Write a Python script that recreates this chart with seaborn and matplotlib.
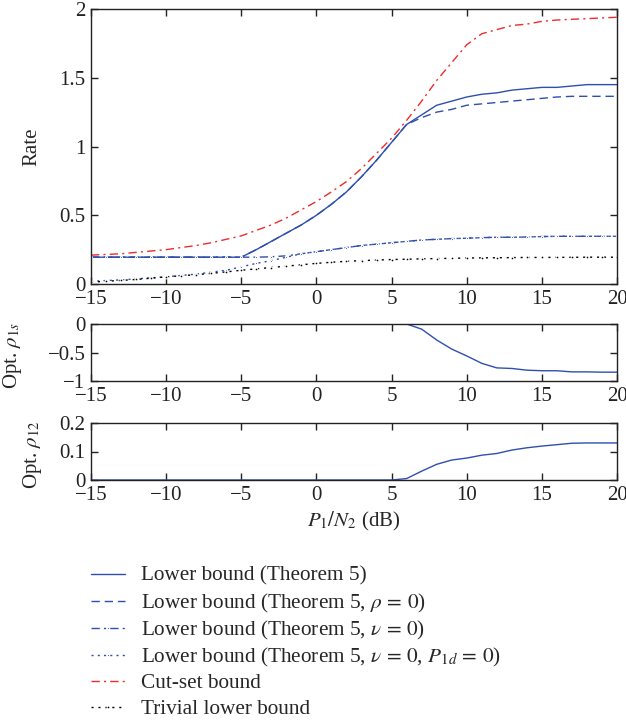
import numpy as np
import matplotlib
matplotlib.use("Agg")
import matplotlib.pyplot as plt
import seaborn as sns

# ── Data ──────────────────────────────────────────────────────────────────────
snr_db = list(range(-15, 21))

lb_thm5 = [0.195] * 11 + [0.25, 0.31, 0.37, 0.43, 0.50, 0.58, 0.67, 0.78, 0.90, 1.03,
                          1.16, 1.23, 1.30, 1.33, 1.36, 1.38, 1.39, 1.41, 1.42, 1.43,
                          1.43, 1.44, 1.45, 1.45, 1.45]
lb_rho0 = [0.195] * 11 + [0.25, 0.31, 0.37, 0.43, 0.50, 0.58, 0.67, 0.78, 0.90, 1.03,
                          1.16, 1.21, 1.25, 1.27, 1.30, 1.31, 1.32, 1.33, 1.34, 1.35,
                          1.36, 1.365, 1.365, 1.365, 1.365]
lb_nu0 = [0.195] * 11 + [0.195, 0.198, 0.205, 0.22, 0.235, 0.25, 0.265, 0.28, 0.29, 0.30,
                         0.31, 0.32, 0.325, 0.33, 0.333, 0.337, 0.34, 0.34, 0.342, 0.345,
                         0.347, 0.347, 0.347, 0.347, 0.347]
lb_nu0_p1d0 = [0.02, 0.025, 0.03, 0.037, 0.045, 0.052, 0.062, 0.072, 0.086, 0.10,
               0.125, 0.15, 0.17, 0.195, 0.22, 0.235, 0.25, 0.265, 0.28, 0.29, 0.30,
               0.31, 0.32, 0.325, 0.33, 0.333, 0.337, 0.34, 0.34, 0.342, 0.345,
               0.347, 0.347, 0.347, 0.347, 0.347]
cutset = [0.21, 0.215, 0.22, 0.23, 0.24, 0.25, 0.265, 0.28, 0.30, 0.325, 0.35,
          0.39, 0.43, 0.48, 0.54, 0.60, 0.67, 0.745, 0.84, 0.95, 1.06, 1.19,
          1.33, 1.48, 1.61, 1.74, 1.82, 1.85, 1.88, 1.89, 1.91, 1.92, 1.925,
          1.93, 1.935, 1.94]
trivial = [0.013, 0.02, 0.026, 0.033, 0.042, 0.052, 0.06, 0.068, 0.077, 0.088,
           0.10, 0.11, 0.12, 0.13, 0.14, 0.15, 0.158, 0.165, 0.17, 0.174, 0.178,
           0.18, 0.183, 0.185, 0.187, 0.189, 0.19, 0.191, 0.192, 0.193, 0.193,
           0.194, 0.194, 0.195, 0.195, 0.195]

opt_rho1s = [0.0] * 22 + [-0.09, -0.28, -0.44, -0.56, -0.69, -0.77, -0.78, -0.81,
                          -0.82, -0.82, -0.84, -0.84, -0.845, -0.845]
opt_rho12 = [0.0] * 21 + [0.005, 0.031, 0.055, 0.07, 0.077, 0.087, 0.093, 0.105,
                          0.113, 0.119, 0.124, 0.129, 0.13, 0.13, 0.13]

labels = [
    "Lower bound (Theorem 5)",
    r"Lower bound (Theorem 5, $\rho\, =\, 0$)",
    r"Lower bound (Theorem 5, $\nu\, =\, 0$)",
    r"Lower bound (Theorem 5, $\nu\, =\, 0$, $P_{1d}\, =\, 0$)",
    "Cut-set bound",
    "Trivial lower bound",
]

# ── Style ─────────────────────────────────────────────────────────────────────
sns.set_theme(style="ticks")
plt.rcParams["font.family"] = ["Liberation Serif", "DejaVu Serif"]
plt.rcParams["mathtext.fontset"] = "stix"
plt.rcParams["font.size"] = 15
plt.rcParams["axes.linewidth"] = 1.0
plt.rcParams["xtick.direction"] = "in"
plt.rcParams["ytick.direction"] = "in"
plt.rcParams["xtick.major.size"] = 5
plt.rcParams["ytick.major.size"] = 5
plt.rcParams["xtick.labelsize"] = 15
plt.rcParams["ytick.labelsize"] = 15
plt.rcParams["axes.labelsize"] = 15

BLUE = "#2f4fae"
RED = "#f02a2a"

fig = plt.figure(figsize=(6.26, 7.21), dpi=100)
L, W = 91 / 626, 526 / 626
ax1 = fig.add_axes([L, 1 - 284 / 721, W, 275 / 721])
ax2 = fig.add_axes([L, 1 - 381 / 721, W, 57 / 721])
ax3 = fig.add_axes([L, 1 - 480 / 721, W, 57 / 721])

x = np.array(snr_db)
lw = 1.0
sns.lineplot(x=x, y=lb_thm5, ax=ax1, color=BLUE, lw=lw, linestyle="-", label=labels[0])
sns.lineplot(x=x, y=lb_rho0, ax=ax1, color=BLUE, lw=lw, linestyle=(0, (6, 3.5)), label=labels[1])
sns.lineplot(x=x, y=lb_nu0, ax=ax1, color=BLUE, lw=lw, linestyle=(0, (6, 3, 1.5, 3)),
             marker=".", markersize=3, label=labels[2])
sns.lineplot(x=x, y=lb_nu0_p1d0, ax=ax1, color=BLUE, lw=lw, linestyle=(0, (1.5, 3)),
             marker=".", markersize=3, label=labels[3])
sns.lineplot(x=x, y=cutset, ax=ax1, color=RED, lw=lw, linestyle=(0, (6, 3, 1.5, 3)), label=labels[4])
sns.lineplot(x=x, y=trivial, ax=ax1, color="black", lw=lw, linestyle=(0, (1.5, 3.5)),
             marker=".", markersize=4, label=labels[5])

sns.lineplot(x=x, y=opt_rho1s, ax=ax2, color=BLUE, lw=lw, legend=False)
sns.lineplot(x=x, y=opt_rho12, ax=ax3, color=BLUE, lw=lw, legend=False)

fmt = matplotlib.ticker.FuncFormatter(lambda v, p: ("%g" % v).replace("-", "\u2212"))
for ax in (ax1, ax2, ax3):
    ax.set_xlim(-15, 20)
    ax.set_xticks([-15, -10, -5, 0, 5, 10, 15, 20])
    ax.tick_params(top=True, right=True, which="major", width=1.0, pad=4, colors="#222222")
    ax.xaxis.set_major_formatter(fmt)
    ax.yaxis.set_major_formatter(fmt)
    for s in ax.spines.values():
        s.set_color("#222222")
        s.set_visible(True)

ax1.set_ylim(0, 2)
ax1.set_yticks([0, 0.5, 1, 1.5, 2])
ax1.set_ylabel("Rate")
ax1.yaxis.set_label_coords(-0.095, 0.5)

ax2.set_ylim(-1, 0)
ax2.set_yticks([-1, -0.5, 0])
ax2.set_ylabel(r"Opt. $\rho_{1s}$")
ax2.yaxis.set_label_coords(-0.127, 0.45)

ax3.set_ylim(0, 0.2)
ax3.set_yticks([0, 0.1, 0.2])
ax3.set_ylabel(r"Opt. $\rho_{12}$")
ax3.yaxis.set_label_coords(-0.089, 0.45)
ax3.set_xlabel(r"$P_1/N_2$ (dB)", labelpad=4)

# legend: one row per entry so the rows are evenly spaced like the reference
handles, labs = ax1.get_legend_handles_labels()
ax1.get_legend().remove()
row_y = [576, 603, 630, 657, 683, 709]
for h, lab, yy in zip(handles, labs, row_y):
    fig.legend([h], [lab], loc="center left", bbox_to_anchor=(91 / 626, 1 - yy / 721),
               frameon=False, borderpad=0, borderaxespad=0, handlelength=1.6,
               handletextpad=0.75, fontsize=15.3)

fig.savefig("out.png", dpi=100, facecolor="white")
